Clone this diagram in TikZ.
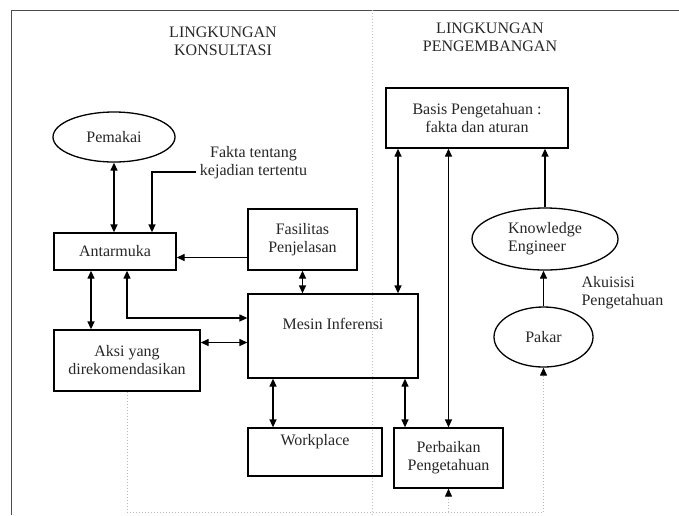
\documentclass[tikz,border=0pt]{standalone}
\usepackage{fontspec}
\setmainfont{Liberation Serif}
\usetikzlibrary{arrows.meta,shapes.geometric}

\begin{document}
\begin{tikzpicture}[x=1pt,y=-1pt,
	every node/.style={font=\fontsize{16}{18}\selectfont, text=black!85, align=center},
	box/.style={draw, line width=1.3pt, inner sep=0pt},
	oval/.style={ellipse, draw, line width=1.3pt, inner sep=0pt},
	dbl/.style={{Triangle[length=8pt,width=7pt]}-{Triangle[length=8pt,width=7pt]}, line width=1.3pt},
	arr/.style={-{Triangle[length=8pt,width=7pt]}, line width=1.3pt},
	fback/.style={draw=gray!55, dotted, line width=1pt}]
			\useasboundingbox (0,0) rectangle (679,515);
			% Frame
			\draw[black!70, line width=1pt] (11,515) -- (11,10) -- (679,10);
			\draw[gray!50, dotted, line width=1pt] (372,10) -- (372,515);
			\node (konsultasi) at (223,41) {LINGKUNGAN\\KONSULTASI};
			\node (pengembangan) at (490,37) {LINGKUNGAN\\PENGEMBANGAN};
			% Nodes
			\node[oval, minimum width=122pt, minimum height=50pt] (pemakai) at (114,137) {Pemakai};
			\node (fakta) at (253.5,163) {Fakta tentang\\kejadian tertentu};
			\node[box, minimum width=122pt, minimum height=37pt] (antarmuka) at (115,251.5) {Antarmuka};
			\node[box, minimum width=109pt, minimum height=61pt] (fasilitas) at (302.5,239.5) {Fasilitas\\Penjelasan};
			\node[box, minimum width=170pt, minimum height=84pt] (mesin) at (333,336) {Mesin Inferensi\\\strut};
			\node[box, minimum width=146pt, minimum height=61pt] (aksi) at (127,360.5) {Aksi yang\\direkomendasikan};
			\node[box, minimum width=134pt, minimum height=48pt] (workplace) at (315,452) {Workplace\\\strut};
			\node[box, minimum width=109pt, minimum height=60pt] (perbaikan) at (448.5,458) {Perbaikan\\Pengetahuan};
			\node[box, minimum width=182pt, minimum height=60pt] (basis) at (477,118) {Basis Pengetahuan :\\fakta dan aturan};
			\node[oval, minimum width=146pt, minimum height=62pt, align=left] (engineer) at (545,239) {Knowledge\\Engineer};
			\node[oval, minimum width=99pt, minimum height=60pt] (pakar) at (543.5,337) {Pakar};
			\node[anchor=west, align=left] (akuisisi) at (578,292.5) {Akuisisi\\Pengetahuan};
			% Connectors
			\draw[dbl] (pemakai.south) -- (pemakai.south |- antarmuka.north);
			\draw[arr] ([yshift=-9pt]fakta.west) -| ([xshift=37pt]antarmuka.north);
			\draw[arr] ([yshift=-18pt]fasilitas.west) -- ([yshift=-18pt]fasilitas.west -| antarmuka.east);
			\draw[dbl] (fasilitas.south) -- (fasilitas.south |- mesin.north);
			\draw[dbl] ([xshift=12pt]antarmuka.south) |- ([yshift=18pt]mesin.west);
			\draw[dbl] ([xshift=-24pt]antarmuka.south) -- ([xshift=-24pt]antarmuka.south |- aksi.north);
			\draw[dbl] ([yshift=18pt]aksi.east) -- ([yshift=18pt]aksi.east -| mesin.west);
			\draw[dbl] ([xshift=-60pt]mesin.south) -- ([xshift=-60pt]mesin.south |- workplace.north);
			\draw[dbl] ([xshift=72pt]mesin.south) -- ([xshift=72pt]mesin.south |- perbaikan.north);
			\draw[dbl] ([xshift=-79pt]basis.south) -- ([xshift=-79pt]basis.south |- mesin.north);
			\draw[dbl] (perbaikan.north) -- (perbaikan.north |- basis.south);
			\draw[arr] (engineer.north) -- (engineer.north |- basis.south);
			\draw[arr] (pakar.north) -- (pakar.north |- engineer.south);
			% Feedback
			\coordinate (loop) at (0,512);
			\draw[fback, -{Triangle[length=8pt,width=7pt,black]}] (aksi.south) -- (aksi.south |- loop) -| (pakar.south);
			\draw[fback, -{Triangle[length=8pt,width=7pt,black]}] (perbaikan.south |- loop) -- (perbaikan.south);
		\end{tikzpicture}
\end{document}
